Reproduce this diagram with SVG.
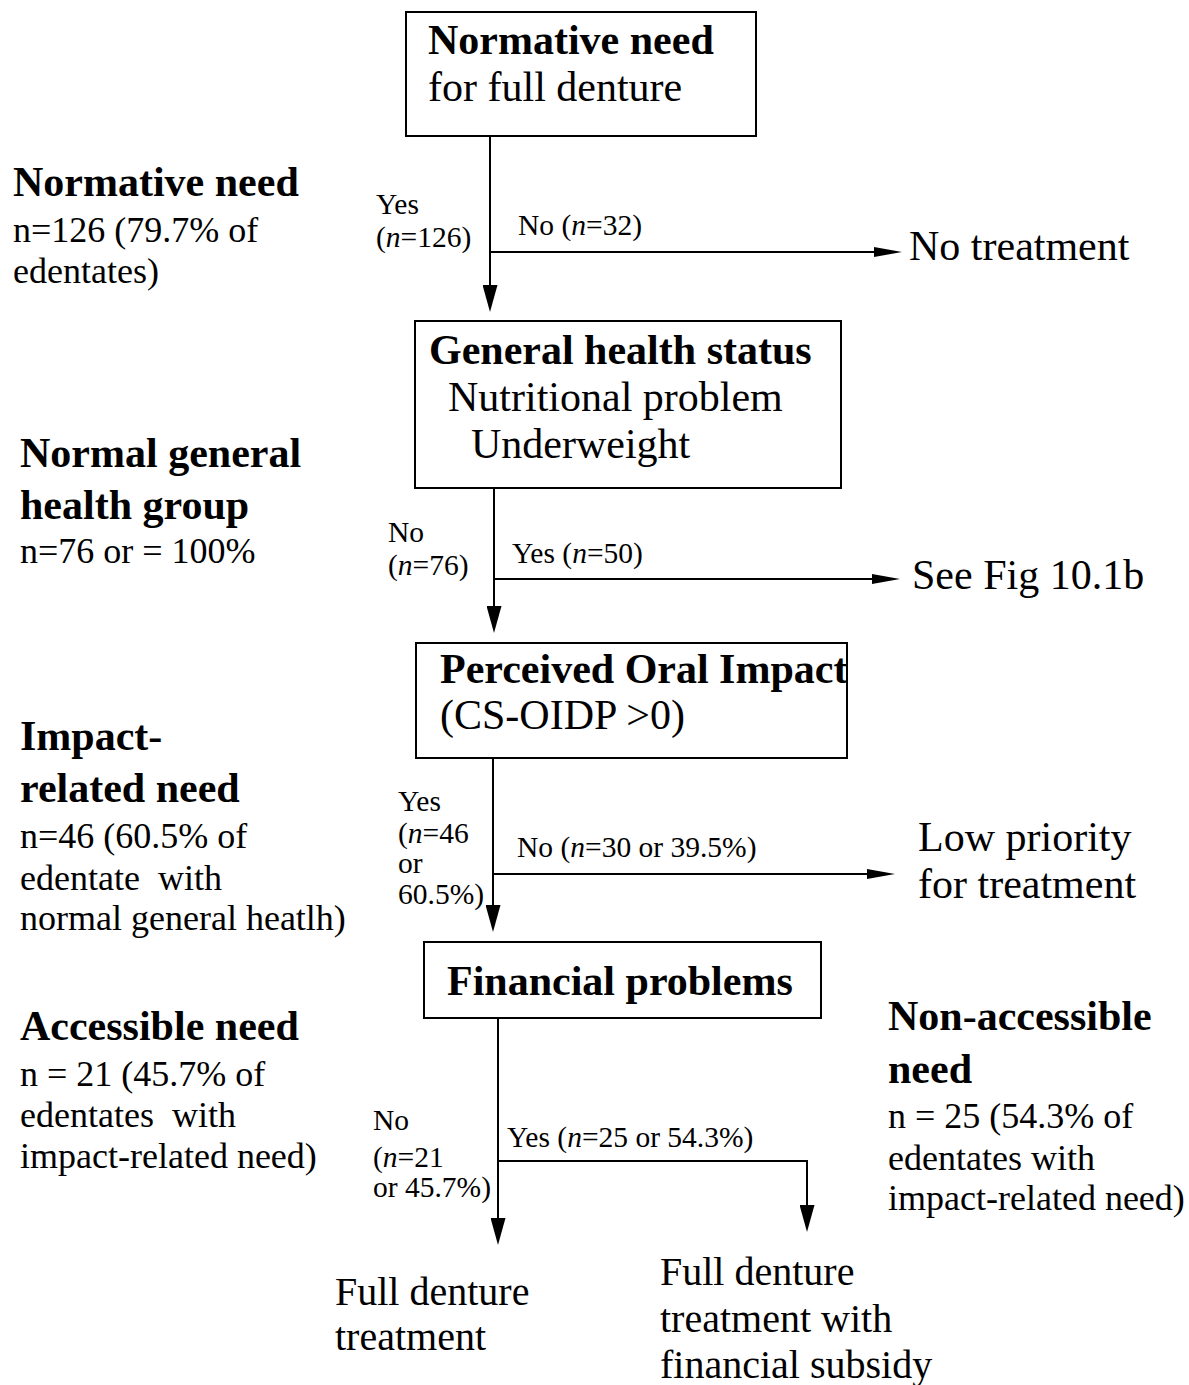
<svg xmlns="http://www.w3.org/2000/svg" width="1189" height="1385" viewBox="0 0 1189 1385">
<defs>
<style>
text{font-family:"Liberation Serif","Times New Roman",serif;fill:#000}
.big{font-size:42px}
.end{font-size:40px}
.b{font-weight:bold}
.side{font-size:36px}
.sm{font-size:29.5px}
.box{fill:#fff;stroke:#000;stroke-width:2}
.ln{fill:none;stroke:#000;stroke-width:2}
.v{marker-end:url(#av)}
.h{marker-end:url(#ah)}
</style>
<marker id="av" viewBox="0 0 27 15" refX="17" refY="7.5" markerWidth="27" markerHeight="15" markerUnits="userSpaceOnUse" orient="auto"><path d="M0,0 L27,7.5 L0,15 z" fill="#000"/></marker>
<marker id="ah" viewBox="0 0 28 10" refX="18" refY="5" markerWidth="28" markerHeight="10" markerUnits="userSpaceOnUse" orient="auto"><path d="M0,0 L28,5 L0,10 z" fill="#000"/></marker>
</defs>
<rect width="1189" height="1385" fill="#fff"/>

<g id="connectors">
<line class="ln v" x1="490" y1="136" x2="490" y2="302"/>
<line class="ln h" x1="490" y1="252" x2="892" y2="252"/>
<line class="ln v" x1="494" y1="488" x2="494" y2="623"/>
<line class="ln h" x1="494" y1="579" x2="890" y2="579"/>
<line class="ln v" x1="493" y1="758" x2="493" y2="922"/>
<line class="ln h" x1="493" y1="874" x2="885" y2="874"/>
<line class="ln v" x1="498" y1="1018" x2="498" y2="1235"/>
<polyline class="ln v" points="498,1161 807,1161 807,1222"/>
<text class="sm" x="376" y="214">Yes</text>
<text class="sm" x="376" y="247">(<tspan font-style="italic">n</tspan>=126)</text>
<text class="sm" x="518" y="235">No (<tspan font-style="italic">n</tspan>=32)</text>
<text class="sm" x="388" y="542">No</text>
<text class="sm" x="388" y="575">(<tspan font-style="italic">n</tspan>=76)</text>
<text class="sm" x="512" y="563">Yes (<tspan font-style="italic">n</tspan>=50)</text>
<text class="sm" x="398" y="811">Yes</text>
<text class="sm" x="398" y="843">(<tspan font-style="italic">n</tspan>=46</text>
<text class="sm" x="398" y="873">or</text>
<text class="sm" x="398" y="904">60.5%)</text>
<text class="sm" x="517" y="857">No (<tspan font-style="italic">n</tspan>=30 or 39.5%)</text>
<text class="sm" x="373" y="1130">No</text>
<text class="sm" x="373" y="1167">(<tspan font-style="italic">n</tspan>=21</text>
<text class="sm" x="373" y="1197">or 45.7%)</text>
<text class="sm" x="507" y="1147">Yes (<tspan font-style="italic">n</tspan>=25 or 54.3%)</text>
</g>

<g id="node-normative">
<rect class="box" x="406" y="12" width="350" height="124"/>
<text class="big b" x="428" y="54">Normative need</text>
<text class="big" x="428" y="101">for full denture</text>
</g>

<g id="node-general-health">
<rect class="box" x="415" y="321" width="426" height="167"/>
<text class="big b" x="429" y="364">General health status</text>
<text class="big" x="448" y="411">Nutritional problem</text>
<text class="big" x="471" y="458">Underweight</text>
</g>

<g id="node-oral-impact">
<rect class="box" x="416" y="643" width="431" height="115"/>
<text class="big b" x="440" y="683">Perceived Oral Impact</text>
<text class="big" x="440" y="729">(CS-OIDP &gt;0)</text>
</g>

<g id="node-financial">
<rect class="box" x="424" y="942" width="397" height="76"/>
<text class="big b" x="447" y="995">Financial problems</text>
</g>

<g id="node-no-treatment">
<text class="big" x="909" y="260">No treatment</text>
</g>

<g id="node-see-fig">
<text class="big" x="912" y="589">See Fig 10.1b</text>
</g>

<g id="node-low-priority">
<text class="big" x="918" y="851">Low priority</text>
<text class="big" x="918" y="898">for treatment</text>
</g>

<g id="node-full-denture">
<text class="end" x="335" y="1305">Full denture</text>
<text class="end" x="335" y="1350">treatment</text>
</g>

<g id="node-full-denture-subsidy">
<text class="end" x="660" y="1285">Full denture</text>
<text class="end" x="660" y="1332">treatment with</text>
<text class="end" x="660" y="1378">financial subsidy</text>
</g>

<g id="label-normative">
<text class="big b" x="13" y="196">Normative need</text>
<text class="side" x="13" y="242">n=126 (79.7% of</text>
<text class="side" x="13" y="283">edentates)</text>
</g>

<g id="label-normal-health">
<text class="big b" x="20" y="467">Normal general</text>
<text class="big b" x="20" y="519">health group</text>
<text class="side" x="20" y="563">n=76 or = 100%</text>
</g>

<g id="label-impact">
<text class="big b" x="20" y="750">Impact-</text>
<text class="big b" x="20" y="802">related need</text>
<text class="side" x="20" y="848">n=46 (60.5% of</text>
<text class="side" x="20" y="890" xml:space="preserve">edentate  with</text>
<text class="side" x="20" y="930">normal general heatlh)</text>
</g>

<g id="label-accessible">
<text class="big b" x="20" y="1040">Accessible need</text>
<text class="side" x="20" y="1086">n = 21 (45.7% of</text>
<text class="side" x="20" y="1127" xml:space="preserve">edentates  with</text>
<text class="side" x="20" y="1168">impact-related need)</text>
</g>

<g id="label-non-accessible">
<text class="big b" x="888" y="1030">Non-accessible</text>
<text class="big b" x="888" y="1083">need</text>
<text class="side" x="888" y="1128">n = 25 (54.3% of</text>
<text class="side" x="888" y="1170">edentates with</text>
<text class="side" x="888" y="1210">impact-related need)</text>
</g>
</svg>
